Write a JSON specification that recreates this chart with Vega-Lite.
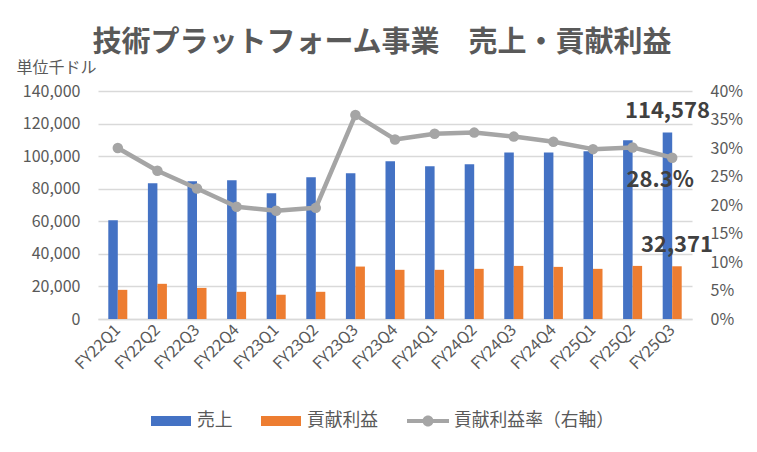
{
  "$schema": "https://vega.github.io/schema/vega-lite/v6.json",
  "width": 594,
  "height": 228,
  "autosize": {"type": "none"},
  "padding": {"left": 98, "top": 91, "right": 65, "bottom": 133},
  "background": "white",
  "title": {
    "text": "技術プラットフォーム事業　売上・貢献利益",
    "font": "Noto Sans CJK JP",
    "fontSize": 29,
    "fontWeight": "bold",
    "color": "#595959",
    "anchor": "middle",
    "dx": -13,
    "offset": 1
  },
  "data": {
    "values": [
      {"q": "FY22Q1", "sales": 60700, "profit": 17900, "rate": 0.300},
      {"q": "FY22Q2", "sales": 83400, "profit": 21600, "rate": 0.260},
      {"q": "FY22Q3", "sales": 84600, "profit": 19100, "rate": 0.229},
      {"q": "FY22Q4", "sales": 85200, "profit": 16700, "rate": 0.197},
      {"q": "FY23Q1", "sales": 77200, "profit": 14900, "rate": 0.190},
      {"q": "FY23Q2", "sales": 87000, "profit": 16700, "rate": 0.195},
      {"q": "FY23Q3", "sales": 89500, "profit": 32200, "rate": 0.358},
      {"q": "FY23Q4", "sales": 96800, "profit": 30200, "rate": 0.315},
      {"q": "FY24Q1", "sales": 93800, "profit": 30200, "rate": 0.325},
      {"q": "FY24Q2", "sales": 95000, "profit": 30800, "rate": 0.327},
      {"q": "FY24Q3", "sales": 102300, "profit": 32600, "rate": 0.320},
      {"q": "FY24Q4", "sales": 102300, "profit": 32000, "rate": 0.311},
      {"q": "FY25Q1", "sales": 103000, "profit": 30800, "rate": 0.298},
      {"q": "FY25Q2", "sales": 109700, "profit": 32600, "rate": 0.301},
      {"q": "FY25Q3", "sales": 114578, "profit": 32371, "rate": 0.283}
    ]
  },
  "layer": [
    {
      "transform": [{"fold": ["sales", "profit"], "as": ["key", "value"]}],
      "encoding": {
        "x": {
          "field": "q",
          "type": "nominal",
          "sort": null,
          "scale": {"paddingInner": 0.52, "paddingOuter": 0.26},
          "axis": {
            "title": null,
            "labelAngle": -45,
            "labelAlign": "right",
            "labelBaseline": "middle",
            "labelPadding": 8,
            "domain": true,
            "domainColor": "#D9D9D9",
            "domainWidth": 1.3
          }
        },
        "xOffset": {
          "field": "key",
          "sort": ["sales", "profit"],
          "scale": {"paddingInner": 0, "paddingOuter": 0}
        },
        "y": {
          "field": "value",
          "type": "quantitative",
          "scale": {"domain": [0, 140000]},
          "axis": {
            "title": "単位千ドル",
            "values": [0, 20000, 40000, 60000, 80000, 100000, 120000, 140000],
            "format": ",d",
            "grid": true,
            "labelPadding": 18,
            "titleAngle": 0,
            "titleX": -82,
            "titleY": -19,
            "titleAlign": "left",
            "titleBaseline": "alphabetic",
            "titleFontSize": 16,
            "titleFontWeight": "normal",
            "titleColor": "#595959",
            "titleFont": "Noto Sans CJK JP"
          }
        }
      },
      "layer": [
        {
          "mark": {"type": "bar"},
          "encoding": {
            "color": {
              "field": "key",
              "type": "nominal",
              "scale": {
                "domain": ["sales", "profit", "rate"],
                "range": ["#4472C4", "#ED7D31", "#A5A5A5"]
              },
              "legend": {
                "orient": "none",
                "legendX": 52,
                "legendY": 309,
                "direction": "horizontal",
                "title": null,
                "padding": 0,
                "symbolSize": 1600,
                "labelFont": "Noto Sans CJK JP",
                "labelFontSize": 17.8,
                "labelColor": "#595959",
                "labelLimit": 400,
                "labelOffset": 5,
                "columnPadding": 25,
                "labelExpr": "datum.value == 'sales' ? '売上' : datum.value == 'profit' ? '貢献利益' : '貢献利益率（右軸）'",
                "encode": {
                  "symbols": {
                    "update": {
                      "shape": {"signal": "datum.value == 'rate' ? 'M-1.05,-0.1H1.05V0.1H-1.05Z M0.275,0A0.275,0.275 0 1,1 -0.275,0A0.275,0.275 0 1,1 0.275,0Z' : 'M-1,-0.25H1V0.25H-1Z'"},
                      "fill": {"scale": "color", "field": "value"},
                      "stroke": {"value": "transparent"},
                      "opacity": {"value": 1}
                    }
                  }
                }
              }
            }
          }
        },
        {
          "transform": [{"filter": "datum.q === 'FY25Q3'"}],
          "mark": {
            "type": "text",
            "dy": -14,
            "baseline": "alphabetic",
            "font": "Noto Sans CJK JP",
            "fontSize": 22,
            "fontWeight": "bold",
            "color": "#404040"
          },
          "encoding": {
            "text": {"field": "value", "type": "quantitative", "format": ",d"}
          }
        }
      ]
    },
    {
      "encoding": {
        "x": {"field": "q", "type": "nominal", "sort": null},
        "y": {
          "field": "rate",
          "type": "quantitative",
          "scale": {"domain": [0, 0.4]},
          "axis": {
            "orient": "right",
            "title": null,
            "values": [0, 0.05, 0.1, 0.15, 0.2, 0.25, 0.3, 0.35, 0.4],
            "format": ".0%",
            "grid": false,
            "labelPadding": 18,
            "labelAlign": "left"
          }
        }
      },
      "layer": [
        {
          "mark": {"type": "line", "color": "#A5A5A5", "strokeWidth": 4.5, "strokeJoin": "round"}
        },
        {
          "mark": {"type": "point", "filled": true, "color": "#A5A5A5", "size": 110, "opacity": 1}
        },
        {
          "transform": [{"filter": "datum.q === 'FY25Q3'"}],
          "mark": {
            "type": "text",
            "dx": -12,
            "dy": 29,
            "baseline": "alphabetic",
            "font": "Noto Sans CJK JP",
            "fontSize": 22,
            "fontWeight": "bold",
            "color": "#404040"
          },
          "encoding": {
            "text": {"field": "rate", "type": "quantitative", "format": ".1%"}
          }
        }
      ]
    }
  ],
  "resolve": {"scale": {"y": "independent"}},
  "config": {
    "view": {"stroke": null},
    "axis": {
      "labelFont": "Noto Sans CJK JP",
      "labelFontSize": 16,
      "labelColor": "#595959",
      "gridColor": "#D9D9D9",
      "gridWidth": 1.3,
      "domain": false,
      "ticks": false
    }
  }
}
